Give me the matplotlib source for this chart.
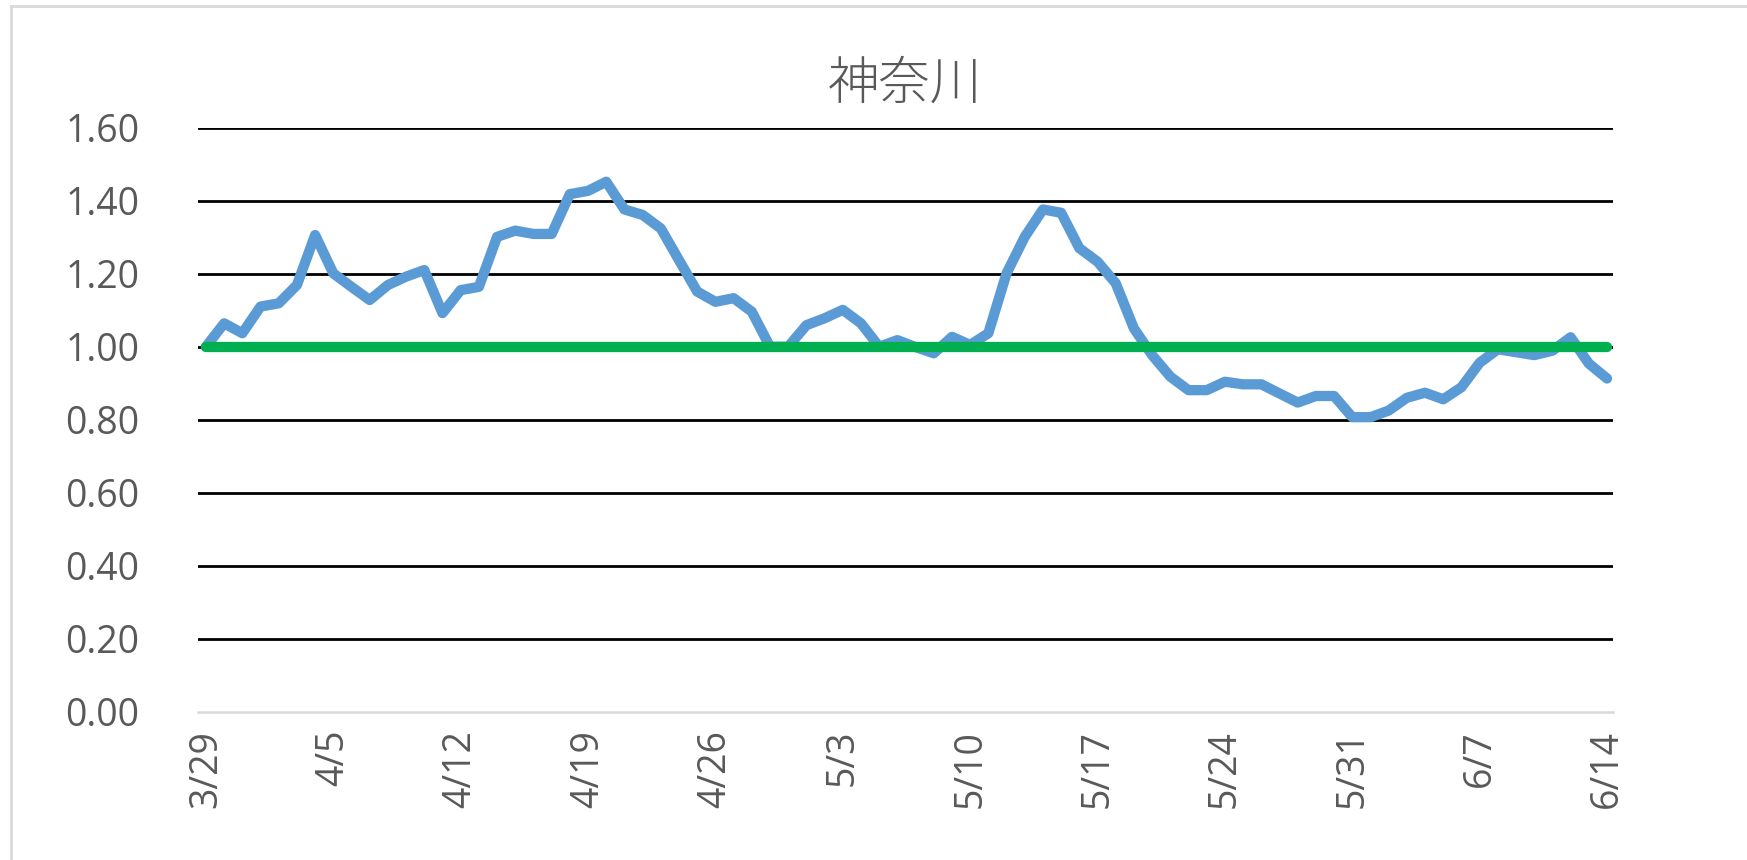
import numpy as np
import matplotlib
matplotlib.use("Agg")
from matplotlib import pyplot as plt
from matplotlib.lines import Line2D

plt.rcParams['font.family'] = ['Open Sans', 'Noto Sans CJK JP', 'DejaVu Sans']

title = "神奈川"

# daily values 3/29 .. 6/14
values = [1.00, 1.064, 1.037, 1.110, 1.119, 1.169, 1.306, 1.201, 1.164, 1.128,
          1.169, 1.192, 1.210, 1.092, 1.155, 1.164, 1.301, 1.318, 1.309, 1.309,
          1.418, 1.427, 1.452, 1.376, 1.361, 1.324, 1.237, 1.151, 1.123, 1.133,
          1.096, 1.000, 1.000, 1.059, 1.078, 1.101, 1.064, 1.000, 1.018, 0.999,
          0.982, 1.027, 1.005, 1.037, 1.201, 1.301, 1.376, 1.367, 1.270, 1.233,
          1.174, 1.050, 0.977, 0.918, 0.881, 0.881, 0.904, 0.897, 0.897, 0.872,
          0.847, 0.865, 0.865, 0.807, 0.807, 0.825, 0.860, 0.874, 0.856, 0.889,
          0.956, 0.993, 0.985, 0.977, 0.989, 1.026, 0.954, 0.913]
baseline = 1.0

tick_labels = ["3/29", "4/5", "4/12", "4/19", "4/26", "5/3",
               "5/10", "5/17", "5/24", "5/31", "6/7", "6/14"]
y_ticks = [0.0, 0.2, 0.4, 0.6, 0.8, 1.0, 1.2, 1.4, 1.6]

x = np.arange(len(values))

fig = plt.figure(figsize=(17.47, 8.60), dpi=100)
ax = fig.add_axes([0.1133, 0.1724, 0.81, 0.6791])

for yv in y_ticks[1:]:
    ax.axhline(yv, color="black", lw=2.0, zorder=1)

ax.plot(x, values, color="#5B9BD5", lw=7.4, solid_capstyle="round",
        solid_joinstyle="round", zorder=3)
ax.plot([x[0], x[-1]], [baseline, baseline], color="#00B050", lw=7.4,
        solid_capstyle="round", zorder=4)

ax.set_xlim(-0.44, len(values) - 1 + 0.33)
ax.set_ylim(0, 1.6)
ax.set_yticks(y_ticks)
ax.set_yticklabels(["%.2f" % v for v in y_ticks])
ax.set_xticks(x[::7])
ax.set_xticklabels(tick_labels, rotation=90, va="top", ha="center")
ax.tick_params(axis="y", length=0, pad=42, labelsize=27, labelcolor="#595959")
ax.tick_params(axis="x", length=0, pad=13, labelsize=27, labelcolor="#595959")

for s in ["top", "right", "left"]:
    ax.spines[s].set_visible(False)
ax.spines["bottom"].set_color("#D9D9D9")
ax.spines["bottom"].set_linewidth(1.8)

fig.text(0.518, 0.902, title, ha="center", va="center", fontsize=37,
         color="#595959", family=["Noto Sans CJK JP", "DejaVu Sans"],
         fontweight="light")

# outer chart border
fig.add_artist(Line2D([0.0063, 1.0], [0.993, 0.993], color="#D9D9D9", lw=2))
fig.add_artist(Line2D([0.0063, 0.0063], [0.0, 0.993], color="#D9D9D9", lw=2))

fig.savefig("out.png", dpi=100)
